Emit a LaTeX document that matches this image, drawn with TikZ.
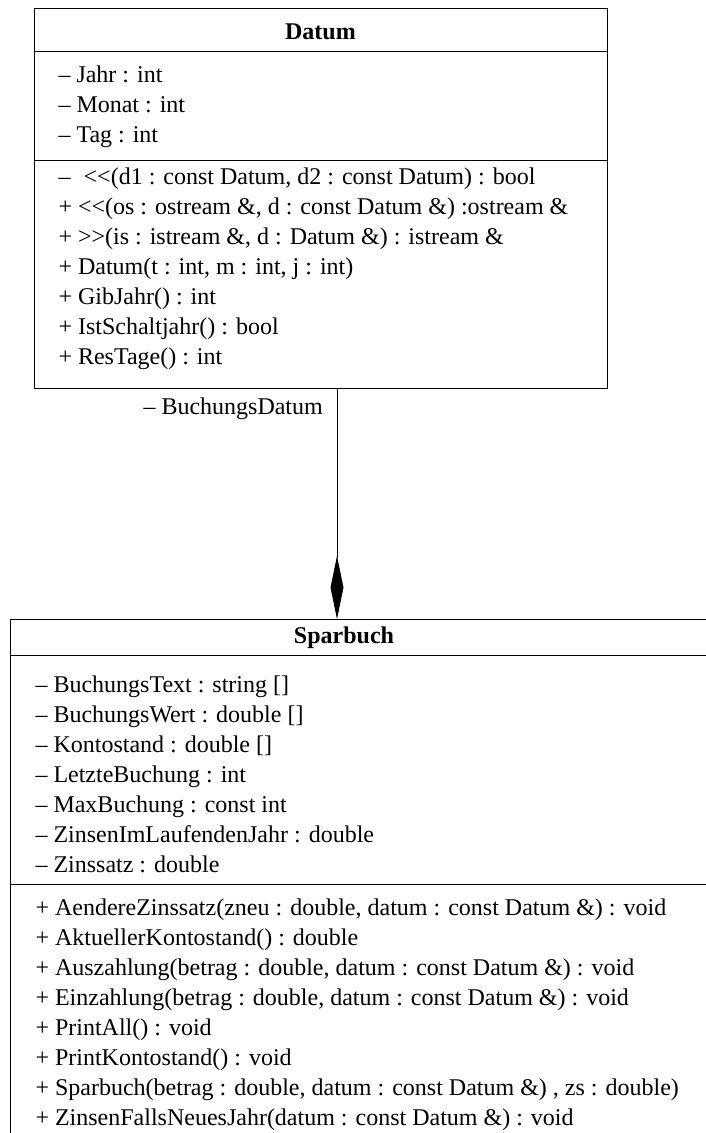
\documentclass[tikz,border=0pt]{standalone}
\usepackage{fontspec}
\setmainfont{Liberation Serif}
\usetikzlibrary{arrows.meta}
\begin{document}
\begin{tikzpicture}[x=1pt,y=-1pt, line width=1pt,
  txt/.style={anchor=base west, inner sep=0pt, font=\fontsize{24}{30}\selectfont},
  ttl/.style={anchor=base, inner sep=0pt, font=\fontsize{24}{30}\selectfont\bfseries},
  classbox/.style={draw, anchor=north west, inner sep=0pt, line width=1pt},
  compose/.style={-{Diamond[length=63pt,width=13pt]}, line width=1pt}]
\useasboundingbox (0,0) rectangle (706,1133);
% Datum class
\node[classbox, minimum width=573pt, minimum height=380pt] (datum) at (34,8) {};
\draw ([yshift=-43pt]datum.north west) -- ([yshift=-43pt]datum.north east);
\draw ([yshift=-152pt]datum.north west) -- ([yshift=-152pt]datum.north east);
\node[ttl] (datumT) at (320.5,39) {Datum};
\foreach \t [count=\i] in {{-- Jahr : int},{-- Monat : int},{-- Tag : int}}
  \node[txt] (da\i) at (58,{82+30*(\i-1)}) {\t};
\foreach \t [count=\i] in {
  {--\hspace{0.55em}{<}{<}(d1 : const Datum, d2 : const Datum) : bool},
  {+ {<}{<}(os : ostream \&, d : const Datum \&) :ostream \&},
  {+ {>}{>}(is : istream \&, d : Datum \&) : istream \&},
  {+ Datum(t : int, m : int, j : int)},
  {+ GibJahr() : int},
  {+ IstSchaltjahr() : bool},
  {+ ResTage() : int}}
  \node[txt] (dm\i) at (58,{184+30*(\i-1)}) {\t};
% Sparbuch class
\node[classbox, minimum width=700pt, minimum height=530pt] (spar) at (10,619) {};
\draw ([yshift=-36pt]spar.north west) -- ([yshift=-36pt]spar.north east);
\draw ([yshift=-265pt]spar.north west) -- ([yshift=-265pt]spar.north east);
\node[ttl] (sparT) at (344,643) {Sparbuch};
\foreach \t [count=\i] in {
  {-- BuchungsText : string []},
  {-- BuchungsWert : double []},
  {-- Kontostand : double []},
  {-- LetzteBuchung : int},
  {-- MaxBuchung : const int},
  {-- ZinsenImLaufendenJahr : double},
  {-- Zinssatz : double}}
  \node[txt] (sa\i) at (35,{692+30*(\i-1)}) {\t};
\foreach \t [count=\i] in {
  {+ AendereZinssatz(zneu : double, datum : const Datum \&) : void},
  {+ AktuellerKontostand() : double},
  {+ Auszahlung(betrag : double, datum : const Datum \&) : void},
  {+ Einzahlung(betrag : double, datum : const Datum \&) : void},
  {+ PrintAll() : void},
  {+ PrintKontostand() : void},
  {+ Sparbuch(betrag : double, datum : const Datum \&) , zs : double)},
  {+ ZinsenFallsNeuesJahr(datum : const Datum \&) : void}}
  \node[txt] (sm\i) at (35,{915+30*(\i-1)}) {\t};
% composition
\coordinate (cx) at (337,0);
\draw[compose] (datum.south -| cx) -- (spar.north -| cx);
\node[txt] (role) at (143,414) {-- BuchungsDatum};
\end{tikzpicture}
\end{document}
